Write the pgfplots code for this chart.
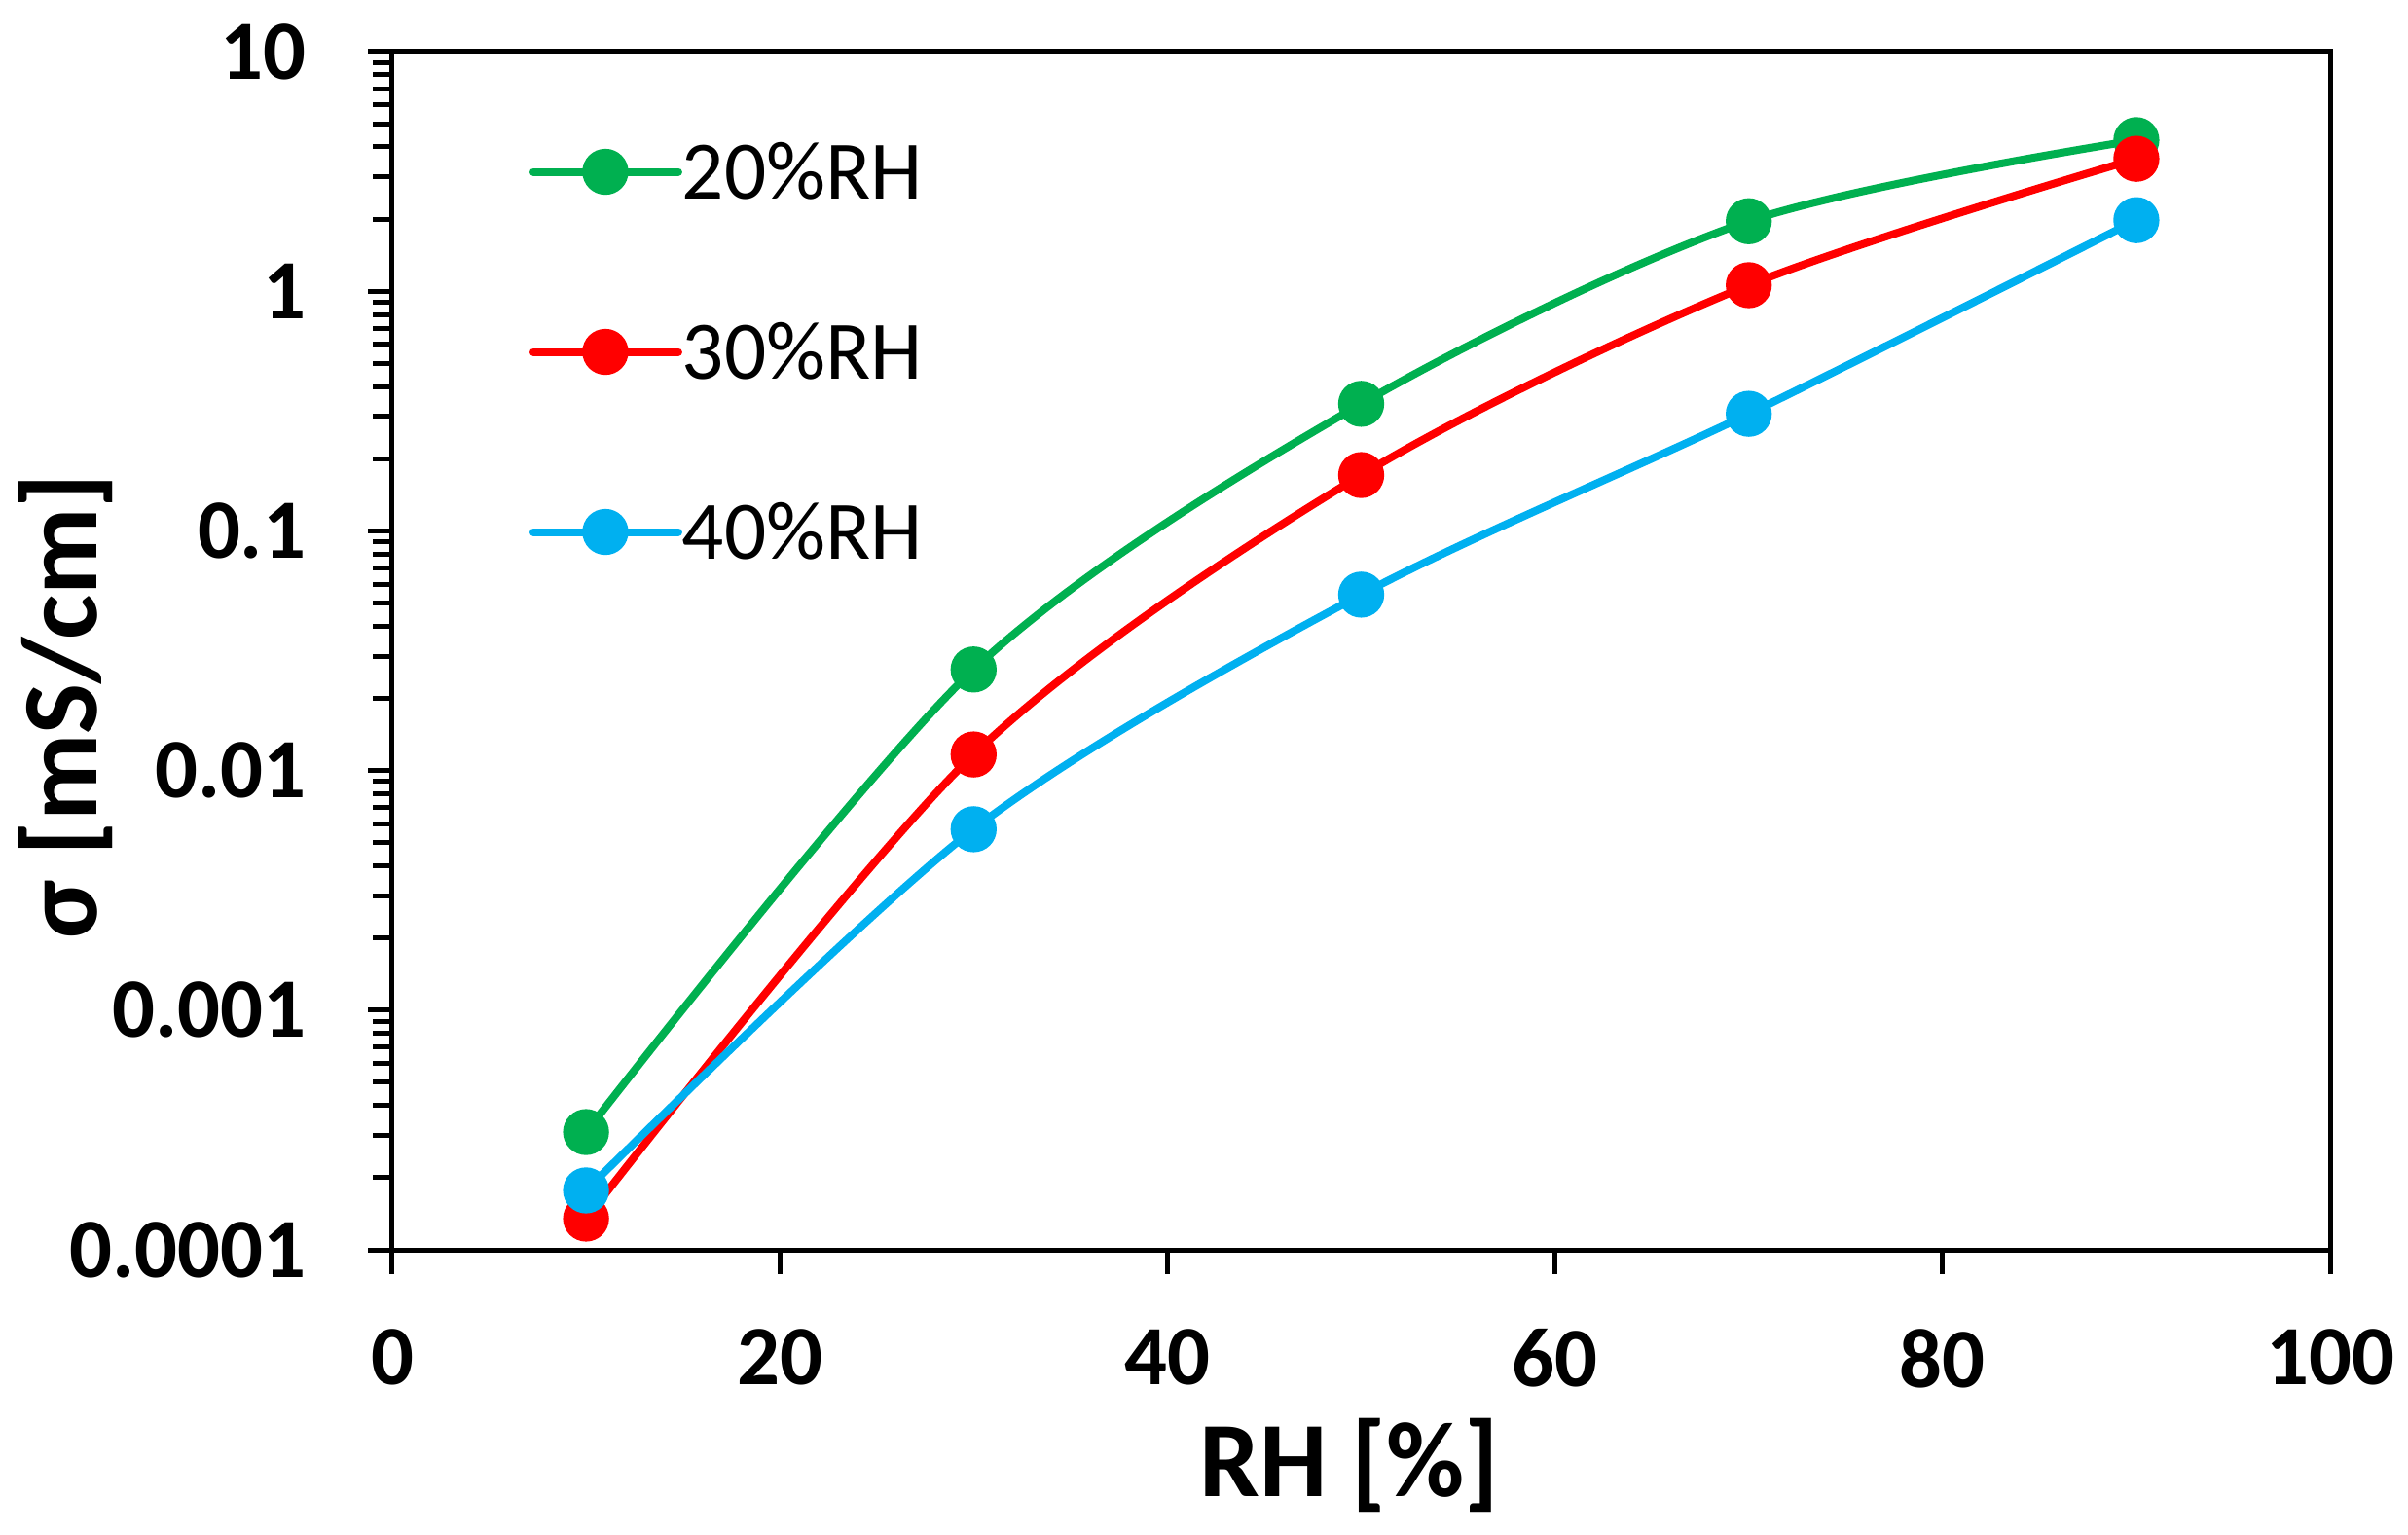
\documentclass[border=0pt]{standalone}
\usepackage{fontspec}
\setmainfont{Carlito}
\usepackage{pgfplots}
\pgfplotsset{compat=1.18}
\definecolor{cgreen}{HTML}{00B050}
\definecolor{cred}{HTML}{FF0000}
\definecolor{cblue}{HTML}{00B0F0}
\begin{document}
\begin{tikzpicture}
\useasboundingbox (0,0) rectangle (742.2bp,473.1bp);
\begin{axis}[
  at={(120.9bp,87.9bp)}, anchor=south west,
  scale only axis, width=597.3bp, height=369.3bp,
  xmin=0, xmax=100, ymode=log, ymin=1e-4, ymax=10,
  xtick={0,20,40,60,80,100},
  xticklabels={0,20,40,60,80,100},
  ytick={1e-4,1e-3,1e-2,1e-1,1,10},
  yticklabels={0.0001,0.001,0.01,0.1,1,10},
  minor ytick={2e-4,3e-4,4e-4,5e-4,6e-4,7e-4,8e-4,9e-4,
               2e-3,3e-3,4e-3,5e-3,6e-3,7e-3,8e-3,9e-3,
               2e-2,3e-2,4e-2,5e-2,6e-2,7e-2,8e-2,9e-2,
               2e-1,3e-1,4e-1,5e-1,6e-1,7e-1,8e-1,9e-1,
               2,3,4,5,6,7,8,9},
  xtick pos=bottom, ytick pos=left,
  tick align=outside,
  major tick length=7.5bp, minor tick length=6bp,
  every tick/.style={black, line width=1.5bp},
  axis line style={line width=1.5bp},
  ticklabel style={font=\fontsize{26bp}{26bp}\selectfont\bfseries, inner sep=0pt},
  xticklabel style={anchor=north, yshift=-16.8bp},
  yticklabel style={anchor=east, xshift=-19bp},
  xlabel={RH [\%]},
  ylabel={σ [mS/cm]},
  label style={font=\fontsize{33bp}{33bp}\selectfont\bfseries, inner sep=0pt},
  xlabel style={at={(axis description cs:0.494,-0.206)}, anchor=base},
  ylabel style={at={(axis description cs:-0.1526,0.4537)}, anchor=base},
  legend style={at={(0.0708,0.922)}, anchor=north west, draw=none, fill=none,
    inner sep=0pt, outer sep=0pt, row sep=39bp, column sep=0bp,
    font=\fontsize{25.6bp}{25.6bp}\selectfont,
    nodes={inner sep=0pt, text height=16.5bp, text depth=0pt},
    cells={anchor=west}},
  legend image code/.code={\draw[mark repeat=2,mark phase=2,#1, line cap=round]
     plot coordinates {(0bp,0bp) (22.2bp,0bp) (44.7bp,0bp)};},
  every axis plot/.append style={line width=2.4bp, smooth, mark=*, mark size=6.6bp},
]
\addplot[cgreen, mark options={solid, fill=cgreen, line width=1pt}] coordinates {
  (10,3.10e-4) (30,0.0264) (50,0.339) (70,1.96) (90,4.27)};
\addlegendentry{20\%RH}
\addplot[cred, mark options={solid, fill=cred, line width=1pt}] coordinates {
  (10,1.35e-4) (30,0.01167) (50,0.171) (70,1.06) (90,3.57)};
\addlegendentry{30\%RH}
\addplot[cblue, mark options={solid, fill=cblue, line width=1pt}] coordinates {
  (10,1.77e-4) (30,0.00569) (50,0.0542) (70,0.308) (90,1.98)};
\addlegendentry{40\%RH}
\end{axis}
\end{tikzpicture}
\end{document}
